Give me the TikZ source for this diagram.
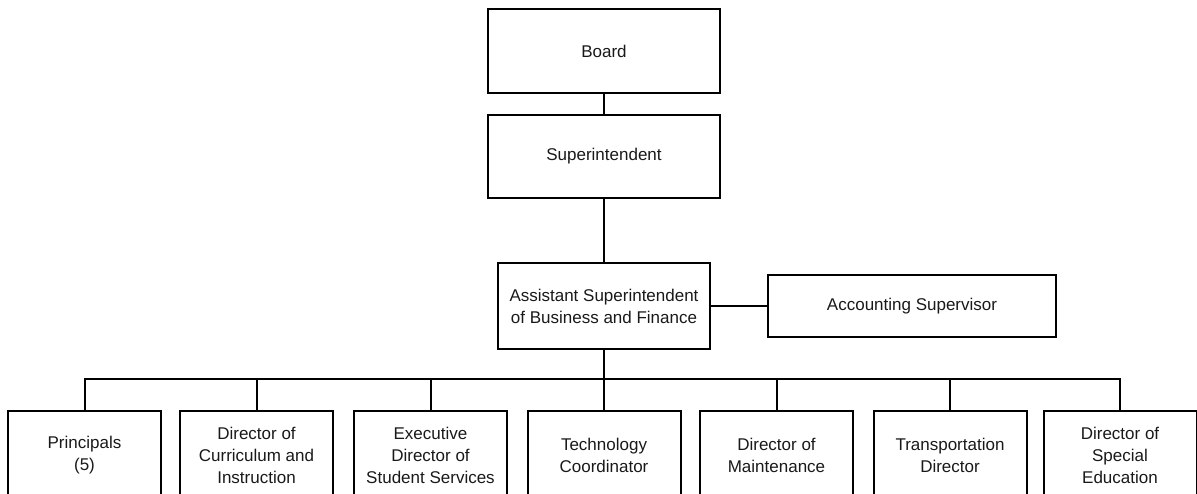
\documentclass[tikz,border=0pt]{standalone}
\usepackage{fontspec}
\setmainfont{Liberation Sans}
\begin{document}
\begin{tikzpicture}[x=1pt,y=-1pt,
  line width=2pt,
  box/.style={draw=black, line width=2pt, inner sep=2pt, align=center,
    font=\fontsize{17}{22}\selectfont, text=black!90},
  unit/.style={box, minimum width=153pt, minimum height=88pt},
  link/.style={draw=black, line width=2pt}]
\useasboundingbox (0,0) rectangle (1197,493);
\clip (0,0) rectangle (1197,493);

% top of the chain
\node[box, minimum width=232pt, minimum height=84pt] (board) at (604,51) {Board};
\node[box, minimum width=232pt, minimum height=83pt] (super) at (604,156.5) {Superintendent};
\node[box, minimum width=212pt, minimum height=86pt] (asst) at (604,306)
  {Assistant Superintendent\\of Business and Finance};
\node[box, minimum width=288pt, minimum height=62pt] (acct) at (912,306) {Accounting Supervisor};

% departments
\node[unit] (u1) at (84.5,455) {Principals\\(5)};
\node[unit] (u2) at (256.5,455) {Director of\\Curriculum and\\Instruction};
\node[unit] (u3) at (430.5,455) {Executive\\Director of\\Student Services};
\node[unit] (u4) at (604,455) {Technology\\Coordinator};
\node[unit] (u5) at (776.5,455) {Director of\\Maintenance};
\node[unit] (u6) at (950,455) {Transportation\\Director};
\node[unit] (u7) at (1120,455) {Director of\\Special\\Education};

\coordinate (bus) at (604,379);

% connectors
\draw[link] (board.south) -- (super.north);
\draw[link] (super.south) -- (asst.north);
\draw[link] (asst.east) -- (acct.west);
\draw[link] (asst.south) -- (bus);
\draw[link] (u1.north) |- (bus) -| (u7.north);
\foreach \u in {u2,u3,u4,u5,u6}
  \draw[link] (\u.north) -- (\u.north |- bus);
\end{tikzpicture}
\end{document}
